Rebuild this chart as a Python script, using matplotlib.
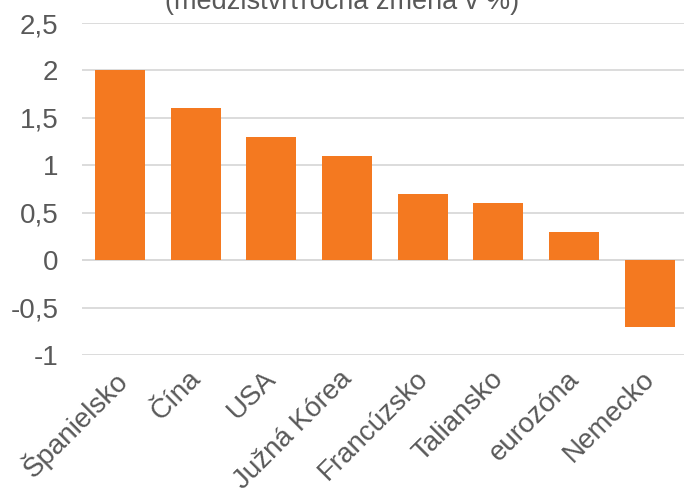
import matplotlib.pyplot as plt
import matplotlib.transforms as mtransforms

plt.rcParams['font.family'] = ['Liberation Sans', 'DejaVu Sans']

# data
krajiny = ['Španielsko', 'Čína', 'USA', 'Južná Kórea', 'Francúzsko',
           'Taliansko', 'eurozóna', 'Nemecko']
zmena = [2.0, 1.6, 1.3, 1.1, 0.7, 0.6, 0.3, -0.7]
y_ticks = [-1, -0.5, 0, 0.5, 1, 1.5, 2, 2.5]
y_labels = ['-1', '-0,5', '0', '0,5', '1', '1,5', '2', '2,5']

text_col = '#595959'
bar_col = '#F47920'
grid_col = '#D9D9D9'

fig = plt.figure(figsize=(6.84, 4.97), dpi=100)
ax = fig.add_axes([0.12, 0.2857, 0.885, 0.668])

x = range(len(krajiny))
ax.bar(x, zmena, width=0.66, color=bar_col, zorder=3)

ax.set_xlim(-0.5, len(krajiny) - 0.5)
ax.set_ylim(-1, 2.5)
ax.set_yticks(y_ticks)
ax.set_yticklabels(y_labels)
ax.yaxis.grid(True, color=grid_col, linewidth=1.3, zorder=0)
ax.axhline(0, color=grid_col, linewidth=1.3, zorder=1)
for s in ax.spines.values():
    s.set_visible(False)
ax.tick_params(axis='y', length=0, pad=17, labelsize=20, labelcolor=text_col)
ax.tick_params(axis='x', length=0, labelsize=20, labelcolor=text_col)

ax.set_xticks(list(x))
ax.set_xticklabels(krajiny, rotation=45, ha='right', va='top',
                   rotation_mode='anchor')
off = mtransforms.ScaledTranslation(-0.08, -0.06, fig.dpi_scale_trans)
for lbl in ax.get_xticklabels():
    lbl.set_transform(lbl.get_transform() + off)

fig.text(0.5, 1 - 9 / 497, '(medzištvrťročná zmena v %)', ha='center',
         va='baseline', fontsize=19.5, color=text_col)

fig.savefig('out.png', dpi=100)
